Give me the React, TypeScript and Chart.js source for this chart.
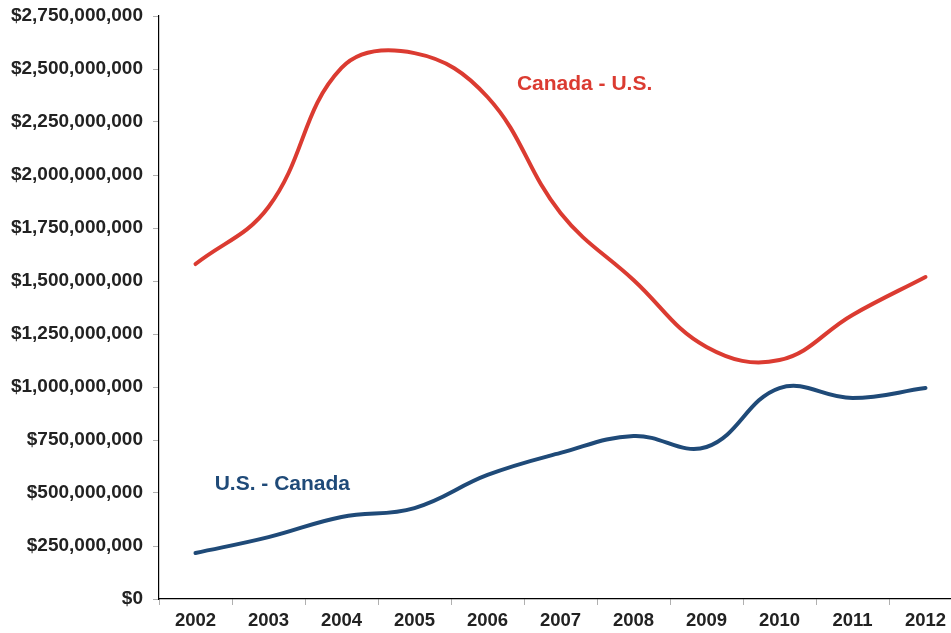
import React, { useEffect, useRef } from "react";
import { Chart, registerables } from "chart.js";

Chart.register(...registerables);

const years = ["2002", "2003", "2004", "2005", "2006", "2007", "2008", "2009", "2010", "2011", "2012"];
const canadaToUS = [1580e6, 1849e6, 2505e6, 2575e6, 2368e6, 1821e6, 1505e6, 1189e6, 1127e6, 1340e6, 1519e6];
const usToCanada = [217e6, 292e6, 387e6, 429e6, 585e6, 689e6, 769e6, 717e6, 995e6, 948e6, 995e6];
const redLabel = "Canada - U.S.";
const blueLabel = "U.S. - Canada";
const yMax = 2750e6;
const yStep = 250e6;

const RED = "#db3b31";
const BLUE = "#1f4a78";
const FONT = "'Liberation Sans', Arial, sans-serif";

const labelPlugin = {
  id: "seriesLabels",
  afterDatasetsDraw(chart: any) {
    const { ctx, scales } = chart;
    const x = scales.x;
    const y = scales.y;
    ctx.save();
    ctx.font = `bold 21px ${FONT}`;
    ctx.textAlign = "center";
    ctx.textBaseline = "middle";
    ctx.fillStyle = RED;
    ctx.fillText(redLabel, x.getPixelForValue(5.33), y.getPixelForValue(2429e6));
    ctx.fillStyle = BLUE;
    ctx.fillText(blueLabel, x.getPixelForValue(1.19), y.getPixelForValue(542e6));
    ctx.restore();
  },
};

export default function App() {
  const ref = useRef<HTMLCanvasElement | null>(null);
  useEffect(() => {
    if (!ref.current) return;
    const chart = new Chart(ref.current, {
      type: "line",
      data: {
        labels: years,
        datasets: [
          {
            label: redLabel,
            data: canadaToUS,
            borderColor: RED,
            borderWidth: 4,
            pointRadius: 0,
            tension: 0.4,
            fill: false,
            borderCapStyle: "round",
          },
          {
            label: blueLabel,
            data: usToCanada,
            borderColor: BLUE,
            borderWidth: 4,
            pointRadius: 0,
            tension: 0.4,
            fill: false,
            borderCapStyle: "round",
          },
        ],
      },
      options: {
        responsive: false,
        animation: false,
        layout: { padding: { top: 16, right: 2, left: 0, bottom: 0 } },
        plugins: { legend: { display: false }, tooltip: { enabled: false } },
        scales: {
          x: {
            offset: true,
            grid: { offset: true, drawOnChartArea: false, drawTicks: true, tickLength: 6, tickColor: "#b0b0b0" },
            border: { color: "#000", width: 1.2 },
            ticks: { color: "#222", font: { family: FONT, size: 18.5, weight: "bold" }, padding: 5, maxRotation: 0 },
            afterFit: (s: any) => { s.height = 34; },
          },
          y: {
            min: 0,
            max: yMax,
            grid: { drawOnChartArea: false, drawTicks: true, tickLength: 6, tickColor: "#b0b0b0" },
            border: { color: "#000", width: 1.2 },
            ticks: {
              stepSize: yStep,
              color: "#222",
              padding: 10,
              font: { family: FONT, size: 19, weight: "bold" },
              callback: (v: any) => "$" + Number(v).toLocaleString("en-US"),
            },
            afterFit: (s: any) => {
              s.width = 159;
              s.paddingTop = 0;
              s.paddingBottom = 0;
            },
          },
        },
      },
      plugins: [labelPlugin],
    });
    return () => chart.destroy();
  }, []);
  return (
    <div style={{ position: "fixed", left: 0, top: 0, width: 951, height: 633, overflow: "hidden", background: "#fff" }}>
      <canvas ref={ref} width={964} height={633} style={{ display: "block" }} />
    </div>
  );
}
